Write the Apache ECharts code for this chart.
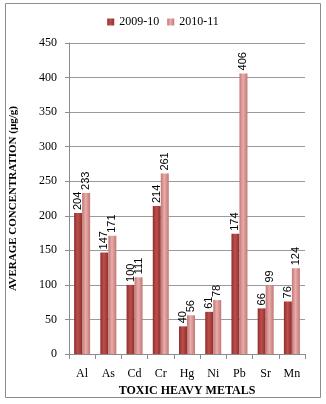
<!DOCTYPE html>
<html>
<head>
<meta charset="utf-8">
<script src="https://cdn.jsdelivr.net/npm/echarts@6/dist/echarts.min.js"></script>
<style>
    html, body {margin: 0; padding: 0; background: #fff;}
    #chart {width: 326px; height: 404px;}
</style>
</head>
<body>
<div id="chart"></div>
<script>
// metals on the x axis
var aMetals = ['Al', 'As', 'Cd', 'Cr', 'Hg', 'Ni', 'Pb', 'Sr', 'Mn'];
var aYear0910 = [204, 147, 100, 214, 40, 61, 174, 66, 76];
var aYear1011 = [233, 171, 111, 261, 56, 78, 406, 99, 124];
var aSeriesNames = ['2009-10', '2010-11'];

var sSerif = '"Liberation Serif", "Times New Roman", serif';
var sSans = '"Liberation Sans", Arial, sans-serif';

function CylinderColor(sEdge, sMid) {
    // horizontal gradient, looks a bit like the excel cylinders
    return new echarts.graphic.LinearGradient(0, 0, 1, 0, [
        {offset: 0, color: sEdge},
        {offset: 0.45, color: sMid},
        {offset: 1, color: sEdge}
    ]);
}

var jLabel = {
    show: true,
    position: 'top',
    rotate: 90,
    align: 'left',
    verticalAlign: 'middle',
    distance: 3,
    color: '#000',
    fontFamily: sSans,
    fontSize: 11
};

var jOption = {
    animation: false,
    color: ['#A8403D', '#D9908E'],
    graphic: [{
        type: 'rect',
        shape: {x: 5.5, y: 3.5, width: 315, height: 394},
        style: {fill: 'none', stroke: '#8c8c8c', lineWidth: 1},
        silent: true
    }],
    legend: {
        top: 11,
        left: 'center',
        icon: 'rect',
        itemWidth: 7,
        itemHeight: 7,
        itemGap: 8,
        textStyle: {fontFamily: sSerif, fontSize: 12, color: '#000'},
        data: aSeriesNames
    },
    grid: {left: 68, right: 21, top: 43, bottom: 50},
    xAxis: {
        type: 'category',
        data: aMetals,
        name: 'TOXIC HEAVY METALS',
        nameLocation: 'middle',
        nameGap: 25,
        nameTextStyle: {fontFamily: sSerif, fontSize: 12, fontWeight: 'bold', color: '#000'},
        axisLine: {lineStyle: {color: '#8c8c8c'}},
        axisTick: {show: true, interval: 0, length: 5, lineStyle: {color: '#8c8c8c'}},
        axisLabel: {interval: 0, margin: 14, fontFamily: sSerif, fontSize: 12, color: '#000'}
    },
    yAxis: {
        type: 'value',
        min: 0,
        max: 450,
        interval: 50,
        name: 'AVERAGE CONCENTRATION (µg/g)',
        nameLocation: 'middle',
        nameGap: 50,
        nameTextStyle: {fontFamily: sSerif, fontSize: 11, fontWeight: 'bold', color: '#000'},
        axisLine: {show: true, lineStyle: {color: '#8c8c8c'}},
        axisTick: {show: true, length: 4, lineStyle: {color: '#8c8c8c'}},
        axisLabel: {margin: 12, fontFamily: sSerif, fontSize: 12, color: '#000'},
        splitLine: {lineStyle: {color: '#9a9a9a'}}
    },
    series: [
        {
            name: aSeriesNames[0],
            type: 'bar',
            barWidth: 8,
            barGap: '0%',
            itemStyle: {color: CylinderColor('#8E2F2D', '#BC4F4B')},
            label: jLabel,
            data: aYear0910
        },
        {
            name: aSeriesNames[1],
            type: 'bar',
            barWidth: 8,
            itemStyle: {color: CylinderColor('#C27774', '#E8ADAB')},
            label: jLabel,
            data: aYear1011
        }
    ]
};

var oChart = echarts.init(document.getElementById('chart'));
oChart.setOption(jOption);
</script>
</body>
</html>
